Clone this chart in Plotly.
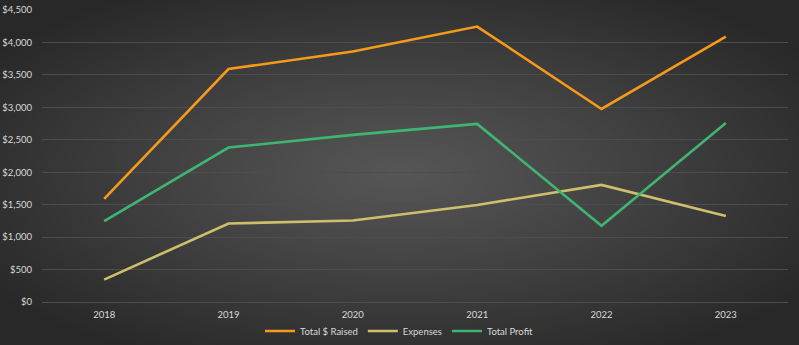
import base64, struct, zlib
import numpy as np
import plotly.graph_objects as go

years = ["2018", "2019", "2020", "2021", "2022", "2023"]
total_raised = [1590, 3590, 3860, 4245, 2975, 4090]
expenses = [345, 1210, 1255, 1495, 1805, 1325]
total_profit = [1245, 2380, 2575, 2745, 1175, 2760]

series_names = ["Total $ Raised", "Expenses", "Total Profit"]
series_colors = ["#F59A1B", "#CDBF6C", "#3FB574"]

W, H = 799, 345
ML, MR, MT, MB = 42, 11, 10, 43

# radial gradient background as PNG
yy, xx = np.mgrid[0:H, 0:W]
cx, cy = W * 0.5, H * 0.5
d = np.sqrt(((xx - cx) / (W * 0.62)) ** 2 + ((yy - cy) / (H * 0.62)) ** 2)
t = np.clip(d, 0, 1) ** 1.1
img = (86 * (1 - t) + 40 * t).astype(np.uint8)
raw = b"".join(b"\x00" + img[r].tobytes() for r in range(H))
def chunk(tag, data):
    c = struct.pack(">I", len(data)) + tag + data
    return c + struct.pack(">I", zlib.crc32(tag + data) & 0xFFFFFFFF)
png = (b"\x89PNG\r\n\x1a\n" + chunk(b"IHDR", struct.pack(">IIBBBBB", W, H, 8, 0, 0, 0, 0))
       + chunk(b"IDAT", zlib.compress(raw, 9)) + chunk(b"IEND", b""))
uri = "data:image/png;base64," + base64.b64encode(png).decode()

pw, ph = W - ML - MR, H - MT - MB

fig = go.Figure()
for name, vals, col in zip(series_names, [total_raised, expenses, total_profit], series_colors):
    fig.add_trace(go.Scatter(x=years, y=vals, name=name, mode="lines",
                             line=dict(color=col, width=2.6)))

font = dict(family="Lato, Open Sans, sans-serif", size=9.5, color="#D9D9D9")
fig.update_layout(
    width=W, height=H,
    margin=dict(l=ML, r=MR, t=MT, b=MB, pad=0, autoexpand=False),
    paper_bgcolor="#333333", plot_bgcolor="rgba(0,0,0,0)",
    font=font,
    showlegend=True,
    legend=dict(orientation="h", x=0.5, xanchor="center", xref="container",
                y=(H - 331) / H, yanchor="middle", yref="container",
                bgcolor="rgba(0,0,0,0)", font=font, itemwidth=30, tracegroupgap=0),
    images=[dict(source=uri, xref="paper", yref="paper", x=-ML / pw, y=1 + MT / ph,
                 sizex=W / pw, sizey=H / ph, sizing="stretch", layer="below",
                 xanchor="left", yanchor="top")],
    xaxis=dict(type="category", range=[-0.5, 5.5], showgrid=False, zeroline=False,
               showline=True, linecolor="#4d4d4d", linewidth=1, ticks="", ticklen=0,
               tickfont=font, fixedrange=True, automargin=False),
    yaxis=dict(range=[0, 4500], dtick=500, tick0=0, tickprefix="$", tickformat=",d",
               showgrid=True, gridcolor="#4d4d4d", gridwidth=1, zeroline=False,
               showline=False, ticks="", tickfont=font, fixedrange=True, automargin=False),
)
fig.update_xaxes(ticklabelstandoff=4)
fig.update_yaxes(ticklabelstandoff=9)
fig.write_html("out.html")
